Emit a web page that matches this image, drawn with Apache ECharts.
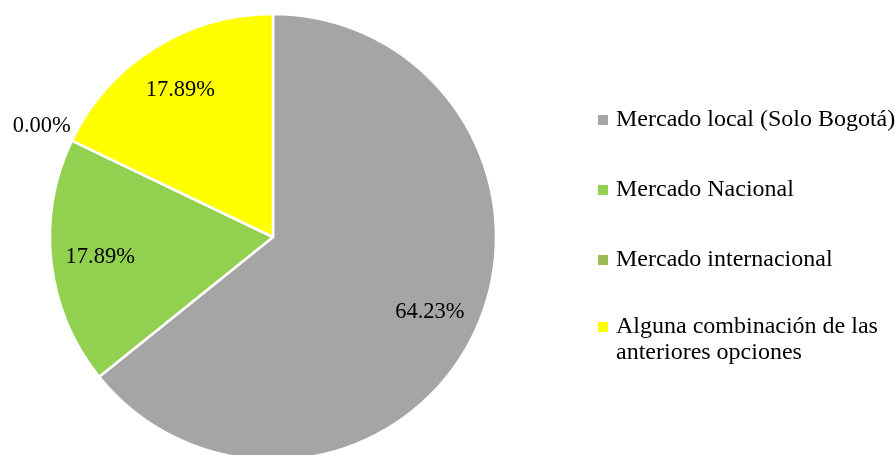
<!DOCTYPE html>
<html>
<head>
<meta charset="utf-8">
<script src="https://cdn.jsdelivr.net/npm/echarts@6/dist/echarts.min.js"></script>
<style>
  html, body { margin: 0; padding: 0; background: #ffffff; }
  #chart { width: 896px; height: 455px; }
</style>
</head>
<body>
<div id="chart"></div>
<script>
// Market destinations and their shares (%)
const categories = [
  'Mercado local (Solo Bogotá)',
  'Mercado Nacional',
  'Mercado internacional',
  'Alguna combinación de las\nanteriores opciones'
];
const shares = [64.23, 17.89, 0.00, 17.89];
const sliceColors = ['#A5A5A5', '#92D050', '#9BBB59', '#FFFF00'];

const FONT = '"Liberation Serif", "Times New Roman", serif';
const CX = 273, CY = 237, R = 223;

// Mid angle of each slice (clockwise from 12 o'clock), used to place labels
const total = shares.reduce((a, b) => a + b, 0);
const midAngles = [];
let acc = 0;
shares.forEach(v => {
  midAngles.push((acc + v / 2) / total * 2 * Math.PI);
  acc += v;
});

const chart = echarts.init(document.getElementById('chart'), null, { renderer: 'canvas' });

const legendText = {
  color: '#000000',
  fontFamily: FONT,
  fontSize: 24,
  lineHeight: 26,
  padding: [0, 0, 0, 3]
};

const legendBase = {
  orient: 'vertical',
  left: 593,
  icon: 'rect',
  itemWidth: 10,
  itemHeight: 10,
  itemStyle: { borderWidth: 0 },
  selectedMode: false,
  textStyle: legendText
};

chart.setOption({
  animation: false,
  backgroundColor: '#ffffff',
  color: sliceColors,
  legend: [
    Object.assign({}, legendBase, {
      top: 102,
      itemGap: 44,
      data: categories.slice(0, 3)
    }),
    Object.assign({}, legendBase, {
      top: 283,
      // a leading blank line keeps the first text line level with the swatch
      formatter: name => '\n' + name,
      data: categories.slice(3)
    })
  ],
  series: [
    {
      type: 'pie',
      center: [CX, CY],
      radius: [0, R],
      startAngle: 90,
      clockwise: true,
      avoidLabelOverlap: false,
      emphasis: { disabled: true },
      itemStyle: { borderColor: '#ffffff', borderWidth: 2.5 },
      label: {
        show: true,
        position: 'inside',
        color: '#000000',
        fontFamily: FONT,
        fontSize: 22.5,
        formatter: p => p.value.toFixed(2) + '%'
      },
      labelLine: { show: false },
      labelLayout: p => {
        const a = midAngles[p.dataIndex];
        const f = shares[p.dataIndex] > 0 ? 0.78 : 1.15;
        return {
          x: CX + f * R * Math.sin(a),
          y: CY - f * R * Math.cos(a),
          align: 'center',
          verticalAlign: 'middle'
        };
      },
      data: categories.map((name, i) => ({ name: name, value: shares[i] }))
    }
  ]
});
</script>
</body>
</html>
